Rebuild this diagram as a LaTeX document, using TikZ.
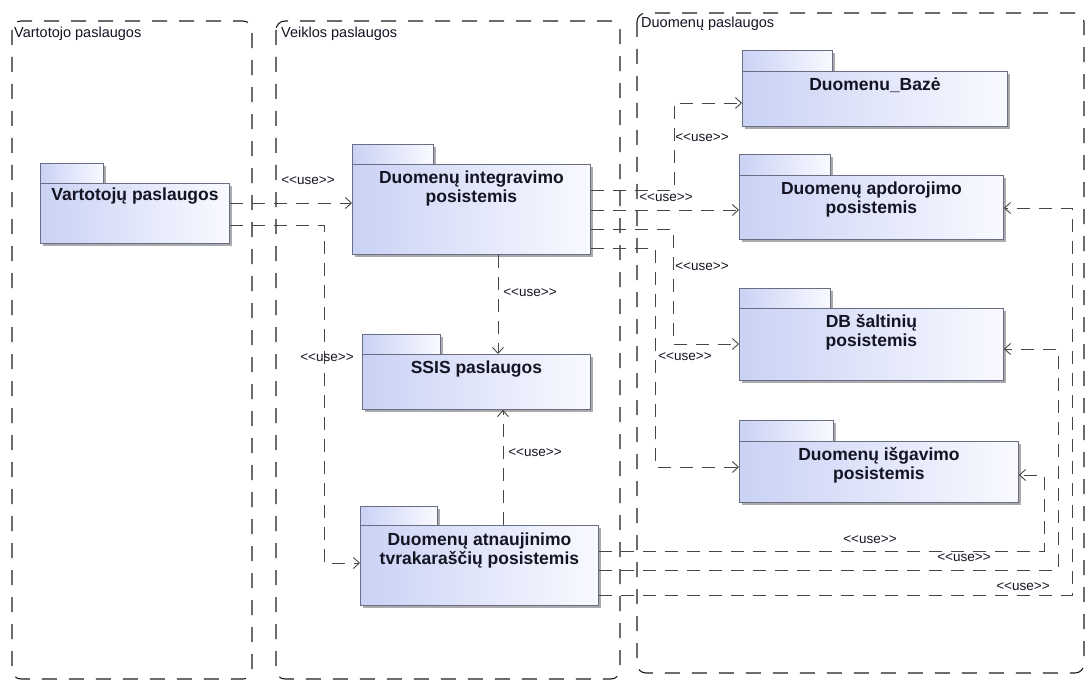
\documentclass[tikz,border=0pt]{standalone}
\usepackage{fontspec}
\setmainfont{Liberation Sans}[Ligatures=TeXOff]
\usetikzlibrary{arrows.meta,shadows}

\definecolor{pkgline}{RGB}{105,110,130}
\definecolor{pkgleft}{RGB}{202,210,245}
\definecolor{pkgright}{RGB}{249,250,255}
\definecolor{pkgshadow}{RGB}{170,170,175}
\definecolor{frameline}{RGB}{30,30,30}
\definecolor{useline}{RGB}{70,70,70}
\definecolor{inktext}{RGB}{20,20,35}

\begin{document}
\begin{tikzpicture}[x=1pt,y=-1pt,
  frame/.style={draw=frameline, line width=1.1pt, dash pattern=on 15pt off 12pt, rounded corners=9pt},
  frametitle/.style={anchor=base west, inner sep=0, font=\fontsize{14.5}{16}\selectfont, text=inktext},
  pkgshape/.style={draw=pkgline, line width=0.9pt, left color=pkgleft, right color=pkgright,
    drop shadow={shadow xshift=3pt, shadow yshift=-3pt, fill=pkgshadow, opacity=1},
    inner sep=0, anchor=north west},
  pkgname/.style={anchor=north, inner sep=0, align=center,
    font=\fontsize{17.5}{19}\selectfont\bfseries, text=inktext},
  usedep/.style={draw=useline, line width=0.9pt, dash pattern=on 13pt off 9pt,
    -{Straight Barb[length=6pt,width=11pt]}},
  uselabel/.style={inner sep=0, font=\fontsize{13.5}{15}\selectfont, text=inktext},
]
\useasboundingbox (0,0) rectangle (1090,682);
\fill[white] (0,0) rectangle (1090,682);

% layer frames
\draw[frame] (12,21) rectangle (252,679);
\draw[frame] (276,21) rectangle (620,679);
\draw[frame] (637,13) rectangle (1084,673);
\node[frametitle] (t1) at (14,38) {Vartotojo paslaugos};
\node[frametitle] (t2) at (281,38) {Veiklos paslaugos};
\node[frametitle] (t3) at (641,28) {Duomenų paslaugos};

% packages: tab, body, name
\node[pkgshape, minimum width=63pt, minimum height=20pt] (p1tab) at (40,163) {};
\node[pkgshape, minimum width=189pt, minimum height=60pt] (p1) at (40,183) {};
\node[pkgname] (n1) at ([yshift=-5pt]p1.north) {Vartotojų paslaugos};

\node[pkgshape, minimum width=81pt, minimum height=20pt] (p2tab) at (352,144) {};
\node[pkgshape, minimum width=238pt, minimum height=90pt] (p2) at (352,164) {};
\node[pkgname] (n2) at ([yshift=-6.5pt]p2.north) {Duomenų integravimo\\posistemis};

\node[pkgshape, minimum width=78pt, minimum height=20pt] (p3tab) at (362,334) {};
\node[pkgshape, minimum width=228pt, minimum height=55pt] (p3) at (362,354) {};
\node[pkgname] (n3) at ([yshift=-6.5pt]p3.north) {SSIS paslaugos};

\node[pkgshape, minimum width=77pt, minimum height=19pt] (p4tab) at (360,506) {};
\node[pkgshape, minimum width=238pt, minimum height=80pt] (p4) at (360,525) {};
\node[pkgname] (n4) at ([yshift=-7.5pt]p4.north) {Duomenų atnaujinimo\\tvrakaraščių posistemis};

\node[pkgshape, minimum width=90pt, minimum height=21pt] (p5tab) at (742,50) {};
\node[pkgshape, minimum width=265pt, minimum height=55pt] (p5) at (742,71) {};
\node[pkgname] (n5) at ([yshift=-6.5pt]p5.north) {Duomenu\_Bazė};

\node[pkgshape, minimum width=91pt, minimum height=21pt] (p6tab) at (739,154) {};
\node[pkgshape, minimum width=264pt, minimum height=64pt] (p6) at (739,175) {};
\node[pkgname] (n6) at ([yshift=-7pt]p6.north) {Duomenų apdorojimo\\posistemis};

\node[pkgshape, minimum width=91pt, minimum height=20pt] (p7tab) at (739,288) {};
\node[pkgshape, minimum width=264pt, minimum height=72pt] (p7) at (739,308) {};
\node[pkgname] (n7) at ([yshift=-6.5pt]p7.north) {DB šaltinių\\posistemis};

\node[pkgshape, minimum width=94pt, minimum height=21pt] (p8tab) at (739,420) {};
\node[pkgshape, minimum width=279pt, minimum height=61pt] (p8) at (739,441) {};
\node[pkgname] (n8) at ([yshift=-6.5pt]p8.north) {Duomenų išgavimo\\posistemis};

% use dependencies
\draw[usedep] (p1.east |- 0,203) -- (p2.west |- 0,203);
\draw[usedep] (p1.east |- 0,225) -| (324,563) -- (p4.west |- 0,563);
\draw[usedep] (p2.south -| 498,0) -- (p3.north -| 498,0);
\draw[usedep] (p4.north -| 503,0) -- (p3.south -| 503,0);
\draw[usedep] (p2.east |- 0,190) -| (674,103) -- (p5.west |- 0,103);
\draw[usedep] (p2.east |- 0,210) -- (p6.west |- 0,210);
\draw[usedep] (p2.east |- 0,229) -| (673,344) -- (p7.west |- 0,344);
\draw[usedep] (p2.east |- 0,248) -| (655,467) -- (p8.west |- 0,467);
\draw[usedep] (p4.east |- 0,551) -| (1044,475) -- (p8.east |- 0,475);
\draw[usedep] (p4.east |- 0,570) -| (1058,349) -- (p7.east |- 0,349);
\draw[usedep] (p4.east |- 0,595) -| (1072,208) -- (p6.east |- 0,208);

% stereotype labels
\node[uselabel] (u1) at (308,181) {<<use>>};
\node[uselabel] (u2) at (327,358) {<<use>>};
\node[uselabel] (u3) at (530,293) {<<use>>};
\node[uselabel] (u4) at (535,453) {<<use>>};
\node[uselabel] (u5) at (702,138) {<<use>>};
\node[uselabel] (u6) at (666,198) {<<use>>};
\node[uselabel] (u7) at (702,267) {<<use>>};
\node[uselabel] (u8) at (685,357) {<<use>>};
\node[uselabel] (u9) at (870,540) {<<use>>};
\node[uselabel] (u10) at (964,558) {<<use>>};
\node[uselabel] (u11) at (1023,587) {<<use>>};
\end{tikzpicture}
\end{document}
